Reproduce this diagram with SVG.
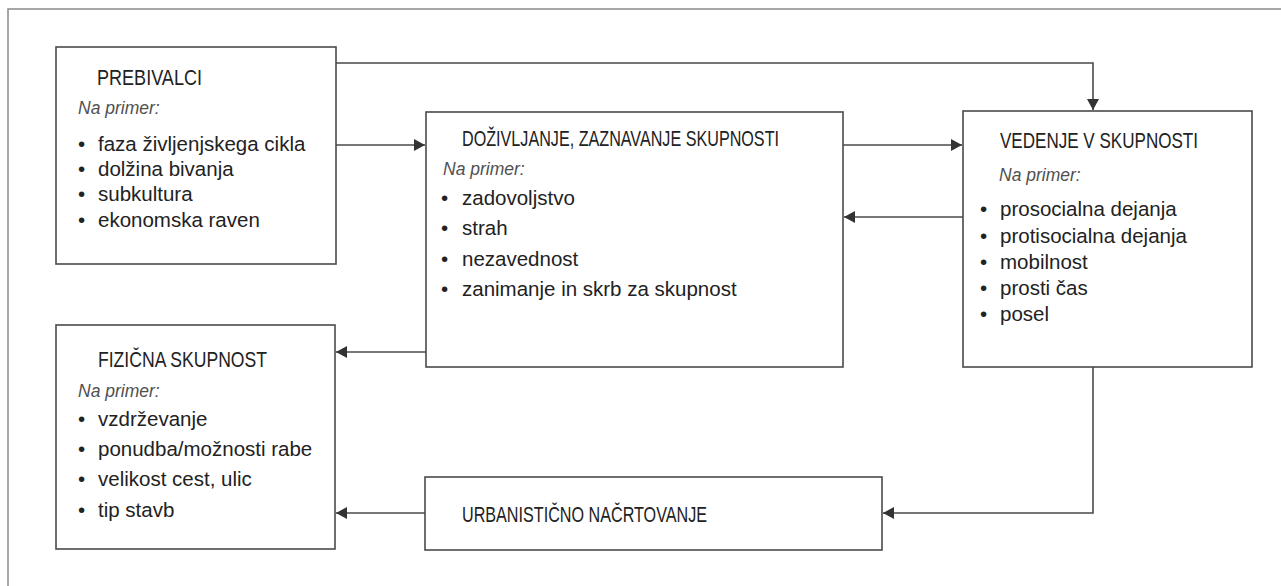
<svg xmlns="http://www.w3.org/2000/svg" width="1281" height="586" viewBox="0 0 1281 586">
<style>
.box{fill:#fff;stroke:#4a4a4a;stroke-width:1.6}
.frame{fill:none;stroke:#8a8a8a;stroke-width:1.5}
.con{fill:none;stroke:#4a4a4a;stroke-width:1.6}
text{font-family:"Liberation Sans",Arial,sans-serif;fill:#222}
.t{font-size:22.5px}
.n{font-size:17.5px;font-style:italic;fill:#505050}
.i{font-size:20.5px}
</style>
<defs>
<marker id="ah" markerUnits="userSpaceOnUse" markerWidth="12" markerHeight="12" refX="11" refY="6" orient="auto">
<path d="M0,0 L11,6 L0,12 z" fill="#333"/>
</marker>
</defs>
<rect width="1281" height="586" fill="#fff"/>
<path class="frame" d="M1281,9 H8 V586"/>
<g id="connectors">
<path class="con" d="M336,63 H1093 V110" marker-end="url(#ah)"/>
<path class="con" d="M336,145 H425" marker-end="url(#ah)"/>
<path class="con" d="M843,145 H962" marker-end="url(#ah)"/>
<path class="con" d="M963,217 H844" marker-end="url(#ah)"/>
<path class="con" d="M426,352 H336" marker-end="url(#ah)"/>
<path class="con" d="M425,513 H336" marker-end="url(#ah)"/>
<path class="con" d="M1093,367 V513 H883" marker-end="url(#ah)"/>
</g>
<g id="prebivalci">
<rect class="box" x="56" y="47" width="280" height="217"/>
<text class="t" x="97" y="85" textLength="105" lengthAdjust="spacingAndGlyphs">PREBIVALCI</text>
<text class="n" x="78" y="114">Na primer:</text>
<text class="i"><tspan x="78" y="151">•</tspan><tspan x="98">faza življenjskega cikla</tspan></text>
<text class="i"><tspan x="78" y="176">•</tspan><tspan x="98">dolžina bivanja</tspan></text>
<text class="i"><tspan x="78" y="201">•</tspan><tspan x="98">subkultura</tspan></text>
<text class="i"><tspan x="78" y="227">•</tspan><tspan x="98">ekonomska raven</tspan></text>
</g>
<g id="dozivljanje">
<rect class="box" x="426" y="112" width="417" height="255"/>
<text class="t" x="462" y="146" textLength="317" lengthAdjust="spacingAndGlyphs">DOŽIVLJANJE, ZAZNAVANJE SKUPNOSTI</text>
<text class="n" x="443" y="175">Na primer:</text>
<text class="i"><tspan x="441" y="205">•</tspan><tspan x="462">zadovoljstvo</tspan></text>
<text class="i"><tspan x="441" y="235">•</tspan><tspan x="462">strah</tspan></text>
<text class="i"><tspan x="441" y="266">•</tspan><tspan x="462">nezavednost</tspan></text>
<text class="i"><tspan x="441" y="296">•</tspan><tspan x="462">zanimanje in skrb za skupnost</tspan></text>
</g>
<g id="vedenje">
<rect class="box" x="963" y="111" width="289" height="256"/>
<text class="t" x="1000" y="148" textLength="198" lengthAdjust="spacingAndGlyphs">VEDENJE V SKUPNOSTI</text>
<text class="n" x="999" y="181">Na primer:</text>
<text class="i"><tspan x="980" y="216">•</tspan><tspan x="1000">prosocialna dejanja</tspan></text>
<text class="i"><tspan x="980" y="243">•</tspan><tspan x="1000">protisocialna dejanja</tspan></text>
<text class="i"><tspan x="980" y="269">•</tspan><tspan x="1000">mobilnost</tspan></text>
<text class="i"><tspan x="980" y="295">•</tspan><tspan x="1000">prosti čas</tspan></text>
<text class="i"><tspan x="980" y="321">•</tspan><tspan x="1000">posel</tspan></text>
</g>
<g id="fizicna">
<rect class="box" x="56" y="325" width="279" height="224"/>
<text class="t" x="98" y="367" textLength="169" lengthAdjust="spacingAndGlyphs">FIZIČNA SKUPNOST</text>
<text class="n" x="78" y="397">Na primer:</text>
<text class="i"><tspan x="78" y="426">•</tspan><tspan x="98">vzdrževanje</tspan></text>
<text class="i"><tspan x="78" y="456">•</tspan><tspan x="98">ponudba/možnosti rabe</tspan></text>
<text class="i"><tspan x="78" y="486">•</tspan><tspan x="98">velikost cest, ulic</tspan></text>
<text class="i"><tspan x="78" y="517">•</tspan><tspan x="98">tip stavb</tspan></text>
</g>
<g id="urbanisticno">
<rect class="box" x="425" y="477" width="457" height="73"/>
<text class="t" x="462" y="522" textLength="245" lengthAdjust="spacingAndGlyphs">URBANISTIČNO NAČRTOVANJE</text>
</g>
</svg>
